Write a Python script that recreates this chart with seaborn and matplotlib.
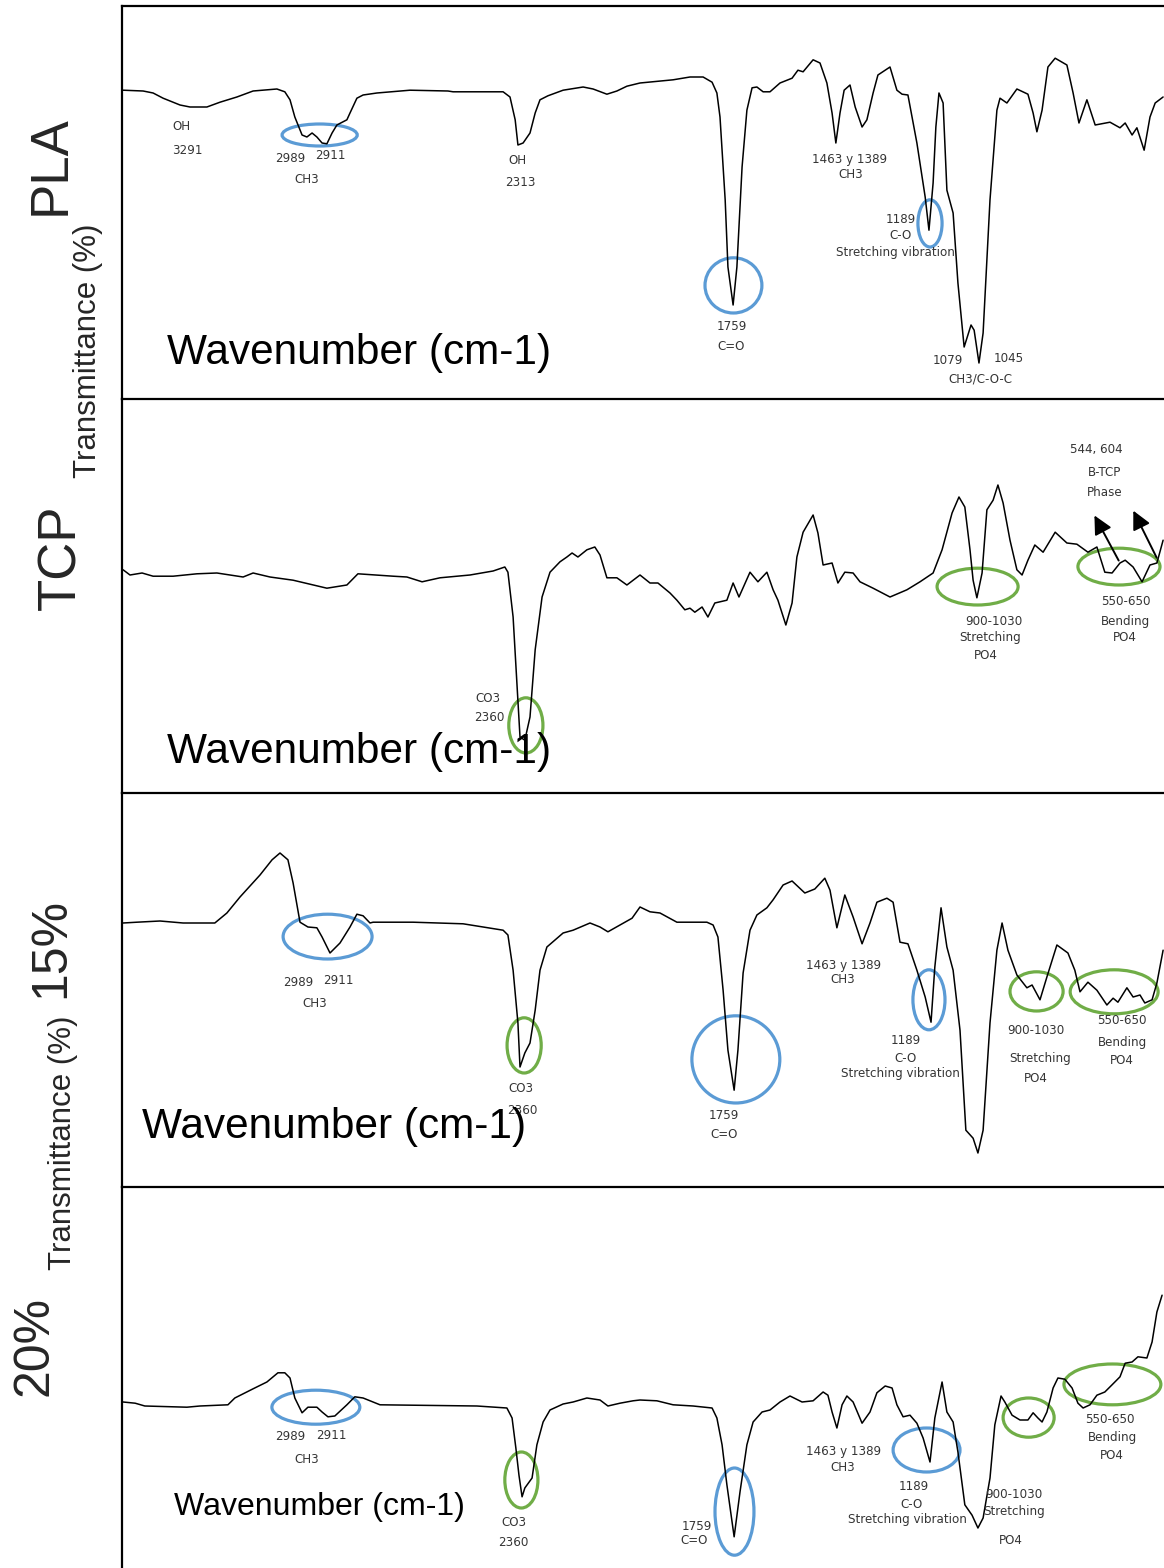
import matplotlib
matplotlib.use("Agg")
import matplotlib.pyplot as plt
import seaborn as sns
from matplotlib.patches import Ellipse

# ---- spectra (wavenumber cm-1, transmittance a.u.) ----
pla_wn = [3523, 3465, 3436, 3407, 3358, 3329, 3280, 3242, 3193, 3146, 3077, 3054, 3039, 3025,
          3004, 2990, 2975, 2961, 2946, 2932, 2917, 2903, 2874, 2865, 2845, 2827, 2787, 2691,
          2581, 2566, 2421, 2401, 2386, 2378, 2363, 2343, 2328, 2314, 2291, 2247, 2189, 2160,
          2120, 2091, 2062, 2024, 1928, 1879, 1841, 1815, 1801, 1792, 1777, 1769, 1754, 1743,
          1728, 1714, 1699, 1685, 1667, 1647, 1618, 1583, 1566, 1551, 1522, 1502, 1482, 1467,
          1456, 1444, 1432, 1415, 1400, 1380, 1366, 1348, 1334, 1299, 1279, 1264, 1247, 1221,
          1197, 1186, 1174, 1166, 1157, 1145, 1134, 1116, 1102, 1084, 1064, 1055, 1041, 1029,
          1009, 989, 980, 960, 931, 899, 884, 873, 858, 841, 820, 786, 768, 751, 728, 704,
          661, 632, 617, 597, 583, 562, 545, 530, 507]
pla_t = [77.2, 77, 76.5, 75.2, 73.5, 73, 73, 74.2, 75.5, 77, 77.5, 76.8, 74.8, 70.5,
         66, 65.5, 66.5, 65.5, 64, 63.8, 66.5, 68.5, 69.8, 71.5, 75.2, 76, 76.5, 77.2,
         77, 76.8, 76.8, 75.5, 69.8, 63.5, 64, 66.5, 71.5, 74.8, 75.8, 77.2, 78, 77.5,
         76.2, 77, 78.2, 79, 79.8, 80.5, 80.5, 79.2, 76.5, 70.5, 49.8, 33, 23.5, 33,
         58, 72.2, 77.8, 78, 76.8, 76.8, 79, 80.2, 82.2, 81.8, 84.8, 84, 79, 71.5,
         64, 71.5, 77.2, 78.5, 73, 68, 69.8, 76.5, 81, 83, 77.2, 76.2, 76, 64,
         50.5, 42.2, 54, 68, 76.5, 74, 52.2, 46.5, 29, 13, 18.5, 17.2, 9, 16.5,
         49.8, 72.2, 75.2, 74, 77.5, 76.2, 71.5, 66.8, 72.2, 83, 85.2, 83.5, 76.5, 69, 74.8, 68.5,
         69.2, 67.8, 69, 66, 67.8, 62.2, 70.5, 74, 75.5]

tcp_wn = [3523, 3503, 3468, 3436, 3378, 3309, 3251, 3175, 3146, 3097, 3030, 2932, 2874, 2842,
          2740, 2700, 2656, 2604, 2517, 2450, 2416, 2407, 2392, 2381, 2372, 2358, 2343, 2328,
          2308, 2285, 2256, 2236, 2221, 2204, 2178, 2155, 2140, 2120, 2091, 2062, 2024, 1995,
          1972, 1937, 1917, 1894, 1879, 1865, 1844, 1827, 1807, 1772, 1754, 1737, 1705, 1682,
          1656, 1638, 1624, 1601, 1583, 1569, 1551, 1522, 1508, 1493, 1467, 1450, 1430, 1406,
          1386, 1348, 1299, 1250, 1212, 1174, 1148, 1119, 1099, 1082, 1067, 1058, 1047, 1032,
          1018, 1000, 986, 971, 951, 931, 916, 899, 879, 855, 820, 786, 757, 725, 699,
          676, 655, 632, 617, 594, 568, 545, 525, 507]
tcp_t = [55.8, 54.5, 55, 54.2, 54.2, 54.8, 55, 54, 55, 54, 53.2, 51.2, 52, 54.8,
         54.2, 54, 52.8, 53.8, 54.5, 55.5, 56.5, 55.2, 44, 27.5, 14, 13.2, 19, 35.8,
         49, 55.2, 57.8, 59, 60, 59, 60.8, 61.5, 59.5, 53.8, 53.8, 52, 54.5, 52.5,
         52.5, 50, 48.2, 45.8, 46.2, 45.2, 46.5, 44, 47.5, 48.2, 52.5, 49, 55.2, 52.8,
         55.2, 50.8, 48.2, 42, 47.5, 59, 65.2, 69.5, 65, 57, 57.5, 52.5, 55.2, 55,
         52.8, 51.2, 49, 50.8, 52.8, 55, 60.8, 70, 74, 71.5, 60.8, 53.2, 48.8, 55,
         70.8, 73.2, 77, 72.5, 63.2, 55.8, 54.5, 58.2, 62, 60.2, 65.2, 62.5, 62.2, 60.2, 61.5,
         55.2, 55, 57.5, 58.2, 56.5, 52.8, 57, 57.5, 63.2]

c15_wn = [3523, 3483, 3416, 3349, 3257, 3222, 3184, 3126, 3091, 3068, 3045, 3030, 3010, 2987,
          2961, 2946, 2923, 2894, 2865, 2845, 2827, 2807, 2798, 2682, 2537, 2421, 2407, 2392,
          2378, 2372, 2358, 2343, 2328, 2314, 2294, 2247, 2218, 2169, 2140, 2117, 2082, 2047,
          2024, 1995, 1966, 1917, 1879, 1830, 1812, 1798, 1783, 1769, 1751, 1740, 1725, 1705,
          1685, 1656, 1638, 1609, 1583, 1546, 1517, 1488, 1473, 1453, 1430, 1406, 1380, 1357,
          1337, 1308, 1290, 1270, 1247, 1221, 1197, 1180, 1169, 1151, 1134, 1116, 1096, 1079,
          1058, 1044, 1029, 1009, 989, 974, 957, 931, 902, 887, 864, 844, 815, 783, 763,
          748, 725, 699, 670, 652, 638, 612, 594, 574, 560, 539, 525, 507]
c15_t = [66, 66.2, 66.5, 66, 66, 68.5, 72.5, 78, 81.8, 83.5, 81.8, 76, 66.2, 65,
         64.8, 62.5, 58.5, 61, 65, 68.2, 67.8, 66, 66.2, 66.2, 65.8, 64.2, 63, 54.2,
         41, 30, 33.5, 36, 44.2, 54.2, 60, 63.5, 64.2, 66, 65, 63.8, 65.5, 67.2,
         70, 68.8, 68.5, 66.2, 66.2, 66.2, 65.5, 62.5, 49.2, 34.2, 24.2, 34.2, 53.5, 64.2,
         68, 69.8, 71.8, 75.5, 76.5, 73.5, 74.5, 77.2, 74.2, 64.8, 73, 67.5, 60.8, 66,
         71.2, 72.2, 71.2, 61.2, 60.8, 54.2, 47.5, 41.2, 55, 69.8, 60, 54.2, 39.2, 14.2,
         12.2, 8.5, 14.2, 41, 59.2, 66, 59.2, 53, 49.8, 50.5, 46.8, 52.5, 60.5, 58.5, 54.2,
         48.8, 51.2, 49.2, 45.5, 47.2, 46.2, 49.8, 47.5, 48, 46, 46.8, 51, 59.2]

c20_wn = [3523, 3488, 3460, 3338, 3300, 3219, 3199, 3146, 3106, 3074, 3054, 3039, 3025, 3004,
          2987, 2961, 2946, 2929, 2909, 2874, 2851, 2827, 2778, 2497, 2410, 2395, 2384, 2375,
          2366, 2358, 2337, 2323, 2305, 2285, 2247, 2218, 2178, 2140, 2117, 2082, 2044, 2024,
          1975, 1928, 1870, 1815, 1801, 1786, 1772, 1751, 1734, 1714, 1696, 1670, 1647, 1618,
          1589, 1554, 1522, 1493, 1479, 1467, 1453, 1438, 1424, 1406, 1380, 1357, 1337, 1313,
          1293, 1279, 1261, 1241, 1221, 1203, 1183, 1169, 1148, 1134, 1116, 1102, 1082, 1061,
          1044, 1029, 1009, 995, 977, 966, 945, 922, 899, 884, 870, 858, 844, 826, 812,
          792, 771, 754, 739, 719, 699, 676, 655, 632, 617, 597, 580, 554, 539, 525, 510]
c20_t = [41.5, 41.2, 40.5, 40.2, 40.5, 40.8, 42.5, 44.8, 46.5, 48.8, 48.8, 47.5, 42.5, 38.8,
         40.2, 40.2, 39, 37.8, 38, 40.8, 42.8, 42.5, 40.8, 40.5, 40, 37.5, 30, 23.2,
         17.8, 20, 22.5, 30.8, 36.5, 39.5, 41, 41.5, 42.5, 42, 40.5, 41.2, 41.8, 42,
         41.8, 40.8, 40.5, 40, 37.5, 30.8, 20.8, 7.8, 19, 30.8, 36.5, 39, 39.5, 41.5,
         43, 41.5, 41.8, 44, 43.2, 39, 35, 40.8, 43, 41.5, 36.2, 39, 43.8, 45.5,
         45, 40.8, 37.8, 38.2, 36.2, 32.5, 26.5, 37.5, 46.5, 39, 36.5, 29, 15.8, 13.2,
         10, 12.5, 22.5, 35.8, 43, 41.5, 38.2, 37, 37, 38.8, 37.5, 36.5, 39, 45, 47.5,
         47.2, 45, 41.2, 40, 40.8, 43.2, 44, 45.8, 47.8, 51.2, 51.5, 52.8, 52.5, 56.5, 64, 68.2]

# ---- peak labels: text, wavenumber, transmittance ----
pla_labels = [("OH", 3355, 68), ("3291", 3336, 62), ("2989", 3039, 60), ("2911", 2922, 60.8),
              ("CH3", 2991, 54.8), ("OH", 2379, 59.5), ("2313", 2372, 54.2),
              ("1463 y 1389", 1415, 60), ("CH3", 1412, 56.2), ("1189", 1269, 44.8),
              ("C-O", 1270, 40.8), ("Stretching vibration", 1283, 36.6), ("1759", 1759, 18.2),
              ("C=O", 1760, 13), ("1079", 1131, 9.5), ("1045", 954, 10.2), ("CH3/C-O-C", 1038, 5)]
tcp_labels = [("544, 604", 702, 85.8), ("B-TCP", 677, 80.2), ("Phase", 676, 75.2),
              ("900-1030", 997, 43), ("Stretching", 1009, 38.8), ("PO4", 1021, 34.5),
              ("550-650", 615, 47.8), ("Bending", 615, 43), ("PO4", 618, 39),
              ("CO3", 2465, 23.5), ("2360", 2460, 18.8)]
c15_labels = [("2989", 3016, 51), ("2911", 2900, 51.5), ("CH3", 2966, 45.8), ("CO3", 2369, 24.5),
              ("2360", 2366, 19.2), ("1759", 1780, 17.8), ("C=O", 1780, 13),
              ("1463 y 1389", 1434, 55.5), ("CH3", 1435, 51.8), ("1189", 1253, 36.5),
              ("C-O", 1253, 32.2), ("Stretching vibration", 1270, 28.5), ("900-1030", 876, 39),
              ("Stretching", 864, 32.2), ("PO4", 876, 27.2), ("550-650", 628, 41.5),
              ("Bending", 626, 36.2), ("PO4", 628, 31.5)]
c20_labels = [("2989", 3039, 32.8), ("2911", 2920, 33.2), ("CH3", 2990, 27.2), ("CO3", 2389, 11.5),
              ("2360", 2392, 6.5), ("1759", 1859, 10.5), ("C=O", 1867, 6.8),
              ("1463 y 1389", 1434, 29.2), ("CH3", 1435, 25.2), ("1189", 1229, 20.5),
              ("C-O", 1238, 16), ("Stretching vibration", 1247, 12.2), ("900-1030", 939, 18.5),
              ("Stretching", 939, 14.2), ("PO4", 948, 7), ("550-650", 661, 37.2),
              ("Bending", 655, 32.5), ("PO4", 655, 28.2)]

# ---- highlighted regions: centre wavenumber, centre T, width, height, group ----
pla_marks = [(2953, 66, 218, 5.5, "org"), (1753, 28.4, 165, 13.8, "org"), (1183, 43.9, 70, 11.8, "org")]
tcp_marks = [(2355, 16.9, 99, 13.8, "min"), (1045, 51.6, 235, 9.2, "min"), (635, 56.6, 238, 9.2, "min")]
c15_marks = [(2930, 62.6, 258, 11.2, "org"), (2360, 35.4, 99, 13.8, "min"), (1746, 31.9, 255, 21.8, "org"),
             (1186, 46.8, 93, 15, "org"), (874, 48.9, 154, 9.8, "min"), (649, 48.8, 255, 11, "min")]
c20_marks = [(2964, 40.2, 255, 8.5, "org"), (2368, 22, 96, 14, "min"), (1750, 14.1, 113, 21.8, "org"),
             (1193, 29.5, 194, 11, "org"), (897, 37.6, 148, 9.8, "min"), (654, 45.9, 281, 10.2, "min")]

# B-TCP phase arrows: (tail wn, tail T, head wn, head T)
tcp_arrows = [(632, 57.5, 710, 70), (522, 58.2, 597, 71.2)]

panels = [
    ("PLA", pla_wn, pla_t, pla_labels, pla_marks, (6, 399), 3396, 11.5, 30.5),
    ("TCP", tcp_wn, tcp_t, tcp_labels, tcp_marks, (399, 793), 3396, 10.2, 30.5),
    ("15%", c15_wn, c15_t, c15_labels, c15_marks, (793, 1187), 3468, 15, 30.5),
    ("20%", c20_wn, c20_t, c20_labels, c20_marks, (1187, 1568), 3375, 15.2, 23),
]
mark_colors = {"org": "#5B9BD5", "min": "#70AD47"}

sns.set_style("white")
plt.rcParams["font.family"] = ["DejaVu Sans"]

W, H = 1164, 1568
fig = plt.figure(figsize=(W / 100, H / 100), dpi=100)

for name, wn, t, labels, marks, (top, bot), wx, wy, wsize in panels:
    ax = fig.add_axes([122 / W, 1 - bot / H, (W - 122) / W, (bot - top) / H])
    sns.lineplot(x=wn, y=t, sort=False, estimator=None, color="black", linewidth=1.1, ax=ax)
    ax.set_xlim(3526.2, 504.4)
    ax.set_ylim(0, (bot - top) / 4)
    ax.set_xticks([])
    ax.set_yticks([])
    ax.set_xlabel("")
    ax.set_ylabel("")
    for side in ["right", "bottom"]:
        ax.spines[side].set_visible(False)
    for side in ["left", "top"]:
        ax.spines[side].set_linewidth(1.6)
        ax.spines[side].set_color("black")

    for cx, cy, ew, eh, grp in marks:
        ax.add_patch(Ellipse((cx, cy), ew, eh, fill=False, edgecolor=mark_colors[grp], linewidth=2.3))

    for txt, x, y in labels:
        ax.text(x, y, txt, ha="center", va="center", fontsize=8.6, color="#353535")

    ax.text(wx, wy, "Wavenumber (cm-1)", ha="left", va="center", fontsize=wsize,
            family="Liberation Sans", color="black")

    if name == "TCP":
        for x0, y0, x1, y1 in tcp_arrows:
            ax.annotate("", xy=(x1, y1), xytext=(x0, y0),
                        arrowprops=dict(arrowstyle="-|>", color="black", lw=1.4, mutation_scale=28))

# sample names and axis titles down the left side
side_text = [("PLA", 51, 165, 38), ("TCP", 61, 557, 38), ("15%", 51, 948, 36), ("20%", 35, 1346, 36)]
for txt, x, y, size in side_text:
    fig.text(x / W, 1 - y / H, txt, rotation=90, ha="center", va="center",
             fontsize=size, family="Liberation Sans")
for x, y in [(88, 351), (63, 1143)]:
    fig.text(x / W, 1 - y / H, "Transmittance (%)", rotation=90, ha="center", va="center",
             fontsize=22.5, family="Liberation Sans")

fig.savefig("out.png", dpi=100)
